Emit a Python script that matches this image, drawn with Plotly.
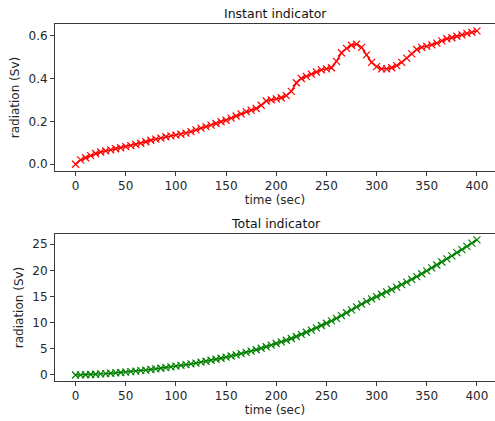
import plotly.graph_objects as go
from plotly.subplots import make_subplots

time_sec = list(range(0, 401, 5))

instant_sv = [
    0.000, 0.020, 0.030, 0.040, 0.050, 0.057, 0.062, 0.067, 0.072, 0.077,
    0.082, 0.087, 0.092, 0.098, 0.105, 0.112, 0.117, 0.122, 0.128, 0.132,
    0.136, 0.140, 0.145, 0.152, 0.160, 0.168, 0.175, 0.182, 0.190, 0.198,
    0.205, 0.215, 0.225, 0.235, 0.245, 0.252, 0.260, 0.275, 0.295, 0.300,
    0.305, 0.310, 0.320, 0.340, 0.380, 0.400, 0.410, 0.420, 0.430, 0.440,
    0.445, 0.450, 0.480, 0.520, 0.540, 0.555, 0.560, 0.545, 0.510, 0.475,
    0.455, 0.445, 0.445, 0.450, 0.460, 0.475, 0.495, 0.515, 0.535, 0.545,
    0.550, 0.557, 0.565, 0.575, 0.585, 0.590, 0.597, 0.603, 0.610, 0.615,
    0.622,
]

total_sv = [
    0.00, 0.02, 0.05, 0.09, 0.14, 0.20, 0.26, 0.33, 0.40, 0.48,
    0.56, 0.64, 0.74, 0.83, 0.94, 1.05, 1.17, 1.29, 1.42, 1.55,
    1.69, 1.83, 1.97, 2.12, 2.28, 2.45, 2.63, 2.81, 3.00, 3.20,
    3.40, 3.62, 3.84, 4.08, 4.32, 4.57, 4.83, 5.11, 5.40, 5.70,
    6.01, 6.32, 6.64, 6.98, 7.36, 7.76, 8.17, 8.59, 9.02, 9.46,
    9.90, 10.35, 10.83, 11.35, 11.89, 12.45, 13.01, 13.55, 14.06, 14.54,
    14.99, 15.44, 15.88, 16.33, 16.79, 17.27, 17.76, 18.28, 18.81, 19.36,
    19.91, 20.47, 21.03, 21.61, 22.19, 22.78, 23.38, 23.98, 24.59, 25.21,
    25.83,
]

x_ticks = [0, 50, 100, 150, 200, 250, 300, 350, 400]
top_y_ticks = [0.0, 0.2, 0.4, 0.6]
top_y_labels = ["0.0", "0.2", "0.4", "0.6"]
bottom_y_ticks = [0, 5, 10, 15, 20, 25]

FONT = "DejaVu Sans"
TXT = "#262626"
AX = "#3a3a3a"

fig = make_subplots(rows=2, cols=1)

fig.add_trace(go.Scatter(
    x=time_sec, y=instant_sv, mode="lines+markers",
    line=dict(color="#ff0000", width=1.5),
    marker=dict(symbol="x-thin", size=7, line=dict(width=1.2, color="#ff0000"), color="#ff0000"),
    showlegend=False), row=1, col=1)

fig.add_trace(go.Scatter(
    x=time_sec, y=total_sv, mode="lines+markers",
    line=dict(color="#008000", width=1.5),
    marker=dict(symbol="x-thin", size=7, line=dict(width=1.2, color="#008000"), color="#008000"),
    showlegend=False), row=2, col=1)

axis_common = dict(
    showgrid=False, zeroline=False, showline=True, linecolor=AX, linewidth=1,
    ticks="outside", ticklen=4, tickwidth=1, tickcolor=AX, automargin=False,
    tickfont=dict(family=FONT, size=12, color=TXT),
)

fig.update_xaxes(**axis_common, range=[-20.5, 418], tickvals=x_ticks, mirror=True,
                 title=dict(text="time (sec)", font=dict(family=FONT, size=12, color=TXT), standoff=3))
fig.update_yaxes(**axis_common, mirror=False,
                 title=dict(text="radiation (Sv)", font=dict(family=FONT, size=12, color=TXT), standoff=6))

fig.update_yaxes(range=[-0.032, 0.654], tickvals=top_y_ticks, ticktext=top_y_labels,
                 domain=[0.588, 1.0], row=1, col=1)
fig.update_yaxes(range=[-1.15, 26.97], tickvals=bottom_y_ticks,
                 domain=[0.0, 0.412], row=2, col=1)
fig.update_xaxes(domain=[0.0, 1.0])

fig.add_annotation(text="Instant indicator", xref="paper", yref="paper",
                   x=0.502, y=1.0, yshift=1, xanchor="center", yanchor="bottom", showarrow=False,
                   font=dict(family=FONT, size=12.5, color="#111"))
fig.add_annotation(text="Total indicator", xref="paper", yref="paper",
                   x=0.502, y=0.412, yshift=1, xanchor="center", yanchor="bottom", showarrow=False,
                   font=dict(family=FONT, size=12.5, color="#111"))

fig.update_layout(
    width=495, height=421,
    margin=dict(l=55, r=0, t=24, b=40),
    paper_bgcolor="white", plot_bgcolor="white",
    font=dict(family=FONT, size=12, color=TXT),
)

fig.write_html(
    "out.html",
    config={"displayModeBar": False, "staticPlot": True},
    post_script="document.body.style.margin='0';document.body.style.padding='0';"
                "document.body.style.overflow='hidden';",
)
